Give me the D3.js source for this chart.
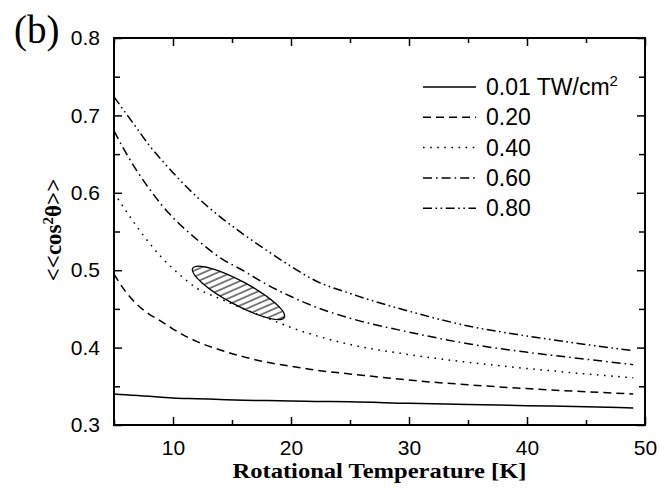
<!DOCTYPE html>
<html>
<head>
<meta charset="utf-8">
<script src="https://cdn.jsdelivr.net/npm/d3@7"></script>
<style>
  html, body { margin: 0; padding: 0; background: #fff; }
  svg { display: block; }
</style>
</head>
<body>
<div id="container"></div>
<script>
"use strict";

// temperatures (K) at which the curves are read
const temps = [5, 6, 7, 8, 9, 10, 12, 14, 16, 18, 20, 22, 25, 30, 35, 40, 45, 49];

const curve001 = [0.340, 0.339, 0.338, 0.337, 0.336, 0.335, 0.334, 0.333, 0.332, 0.3315, 0.331, 0.3305, 0.330, 0.328, 0.3265, 0.325, 0.3235, 0.322];
const curve020 = [0.495, 0.472, 0.455, 0.443, 0.434, 0.424, 0.408, 0.397, 0.388, 0.381, 0.376, 0.371, 0.366, 0.358, 0.352, 0.347, 0.343, 0.340];
const curve040 = [0.600, 0.577, 0.555, 0.535, 0.517, 0.502, 0.477, 0.463, 0.450, 0.438, 0.426, 0.416, 0.404, 0.391, 0.381, 0.373, 0.366, 0.361];
const curve060 = [0.680, 0.652, 0.627, 0.605, 0.585, 0.568, 0.540, 0.516, 0.499, 0.481, 0.466, 0.453, 0.438, 0.420, 0.405, 0.394, 0.385, 0.378];
const curve080 = [0.724, 0.703, 0.682, 0.661, 0.643, 0.626, 0.595, 0.569, 0.546, 0.525, 0.505, 0.487, 0.470, 0.447, 0.428, 0.415, 0.404, 0.396];

const seriesLabels = ["0.01", "0.20", "0.40", "0.60", "0.80"];
const seriesValues = [curve001, curve020, curve040, curve060, curve080];

// hatched region: ends of the long axis [T, value], and width/length ratio
const regionEnds = [[11.67, 0.5025], [19.43, 0.439]];
const regionRatio = 0.23;

const xTicks = [10, 20, 30, 40, 50];
const xMinor = [5, 15, 25, 35, 45];
const yTicks = [0.3, 0.4, 0.5, 0.6, 0.7, 0.8];
const yMinor = [0.35, 0.45, 0.55, 0.65, 0.75];

const width = 660;
const height = 491;
const margin = { top: 38, right: 15, bottom: 66, left: 114 };
const plotW = width - margin.left - margin.right;
const plotH = height - margin.top - margin.bottom;

const dashes = ["none", "8,5", "1.6,5.5", "9,4,1.6,4", "9,3.5,1.6,3.5,1.6,3.5"];

const sansFont = "'Liberation Sans', Arial, Helvetica, sans-serif";
const serifFont = "'Liberation Serif', 'Times New Roman', Times, serif";

const svg = d3.select("#container")
  .append("svg")
  .attr("width", width)
  .attr("height", height);

const x = d3.scaleLinear().domain([5, 50]).range([0, plotW]);
const y = d3.scaleLinear().domain([0.3, 0.8]).range([plotH, 0]);

const defs = svg.append("defs");
defs.append("clipPath")
  .attr("id", "plot-clip")
  .append("rect")
  .attr("width", plotW)
  .attr("height", plotH);

const hatch = defs.append("pattern")
  .attr("id", "hatch")
  .attr("patternUnits", "userSpaceOnUse")
  .attr("width", 5.6)
  .attr("height", 10)
  .attr("patternTransform", "rotate(38)");
hatch.append("line")
  .attr("x1", 1).attr("y1", 0)
  .attr("x2", 1).attr("y2", 10)
  .attr("stroke", "#000")
  .attr("stroke-width", 1);

const g = svg.append("g")
  .attr("transform", `translate(${margin.left},${margin.top})`);

// curves
const line = d3.line()
  .x((d) => x(d[0]))
  .y((d) => y(d[1]))
  .curve(d3.curveMonotoneX);

g.append("g")
  .attr("clip-path", "url(#plot-clip)")
  .selectAll("path")
  .data(seriesValues)
  .enter()
  .append("path")
  .attr("d", (vals) => line(temps.map((t, i) => [t, vals[i]])))
  .attr("fill", "none")
  .attr("stroke", "#000")
  .attr("stroke-width", 1.5)
  .attr("stroke-dasharray", (_d, i) => dashes[i]);

// hatched ellipse
const p0 = [x(regionEnds[0][0]), y(regionEnds[0][1])];
const p1 = [x(regionEnds[1][0]), y(regionEnds[1][1])];
const rx = Math.hypot(p1[0] - p0[0], p1[1] - p0[1]) / 2;
const angle = Math.atan2(p1[1] - p0[1], p1[0] - p0[0]) * 180 / Math.PI;
g.append("ellipse")
  .attr("cx", 0)
  .attr("cy", 0)
  .attr("rx", rx)
  .attr("ry", rx * regionRatio)
  .attr("transform", `translate(${(p0[0] + p1[0]) / 2},${(p0[1] + p1[1]) / 2}) rotate(${angle})`)
  .attr("fill", "url(#hatch)")
  .attr("stroke", "#000")
  .attr("stroke-width", 1.3);

// axes, ticks pointing inward on all four sides
function styleAxis(sel) {
  sel.select(".domain").remove();
  sel.selectAll(".tick line").attr("stroke", "#000").attr("stroke-width", 1.5);
  sel.selectAll(".tick text")
    .style("font-family", sansFont)
    .style("font-size", "21px")
    .attr("fill", "#000");
}

g.append("g")
  .attr("transform", `translate(0,${plotH})`)
  .call(d3.axisBottom(x).tickValues(xTicks).tickSize(-8).tickPadding(15).tickFormat(d3.format("d")))
  .call(styleAxis);
g.append("g")
  .attr("transform", `translate(0,${plotH})`)
  .call(d3.axisBottom(x).tickValues(xMinor).tickSize(-5).tickFormat(""))
  .call(styleAxis);
g.append("g")
  .call(d3.axisTop(x).tickValues(xTicks).tickSize(-8).tickFormat(""))
  .call(styleAxis);
g.append("g")
  .call(d3.axisTop(x).tickValues(xMinor).tickSize(-5).tickFormat(""))
  .call(styleAxis);

g.append("g")
  .call(d3.axisLeft(y).tickValues(yTicks).tickSize(-8).tickPadding(14).tickFormat(d3.format(".1f")))
  .call(styleAxis);
g.append("g")
  .call(d3.axisLeft(y).tickValues(yMinor).tickSize(-6).tickFormat(""))
  .call(styleAxis);
g.append("g")
  .attr("transform", `translate(${plotW},0)`)
  .call(d3.axisRight(y).tickValues(yTicks).tickSize(-8).tickFormat(""))
  .call(styleAxis);
g.append("g")
  .attr("transform", `translate(${plotW},0)`)
  .call(d3.axisRight(y).tickValues(yMinor).tickSize(-6).tickFormat(""))
  .call(styleAxis);

// frame
g.append("rect")
  .attr("width", plotW)
  .attr("height", plotH)
  .attr("fill", "none")
  .attr("stroke", "#000")
  .attr("stroke-width", 2);

// legend
const legend = g.append("g")
  .attr("transform", `translate(${309},${49})`);

const rows = legend.selectAll("g")
  .data(seriesLabels)
  .enter()
  .append("g")
  .attr("transform", (_d, i) => `translate(0,${i * 30.3})`);

rows.append("line")
  .attr("x1", 0)
  .attr("x2", 53)
  .attr("stroke", "#000")
  .attr("stroke-width", 1.5)
  .attr("stroke-dasharray", (_d, i) => dashes[i]);

const labels = rows.append("text")
  .attr("x", 63)
  .attr("y", 8)
  .style("font-family", sansFont)
  .style("font-size", "23px")
  .text((d) => d);

labels.filter((_d, i) => i === 0).each(function () {
  const t = d3.select(this);
  t.append("tspan").text(" TW/cm");
  t.append("tspan").attr("dy", -9).style("font-size", "15px").text("2");
});

// axis titles
svg.append("text")
  .attr("x", margin.left + plotW / 2)
  .attr("y", 478)
  .attr("text-anchor", "middle")
  .attr("textLength", 294)
  .attr("lengthAdjust", "spacingAndGlyphs")
  .style("font-family", serifFont)
  .style("font-weight", "bold")
  .style("font-size", "22px")
  .text("Rotational Temperature [K]");

const yTitle = svg.append("text")
  .attr("transform", `translate(61,230) rotate(-90)`)
  .attr("text-anchor", "middle")
  .style("font-family", serifFont)
  .style("font-weight", "bold")
  .style("font-size", "23px");
yTitle.append("tspan").text("<<cos");
yTitle.append("tspan").attr("dy", -8).style("font-size", "15px").text("2");
yTitle.append("tspan").attr("dy", 8).text("θ>>");

svg.append("text")
  .attr("x", 14)
  .attr("y", 43)
  .style("font-family", serifFont)
  .style("font-size", "39px")
  .text("(b)");
</script>
</body>
</html>
